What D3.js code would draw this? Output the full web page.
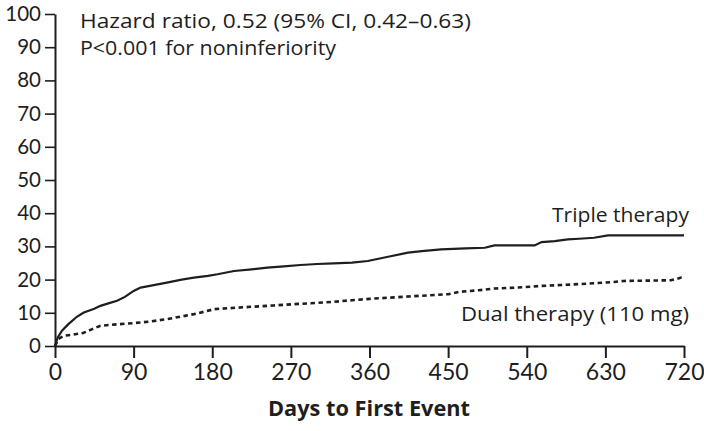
<!DOCTYPE html>
<html>
<head>
<meta charset="utf-8">
<script src="https://cdn.jsdelivr.net/npm/d3@7"></script>
<style>
  html, body { margin: 0; padding: 0; background: #fff; }
  svg { display: block; font-family: "Open Sans", Lato, sans-serif; }
</style>
</head>
<body>
<svg id="chart" width="704" height="431"></svg>
<script>
// Cumulative incidence (%) by days to first event
const tripleDays = [0, 3, 8, 15, 25, 33, 45, 52, 62, 71, 80, 90, 98, 110, 128, 145, 159, 175, 186, 205, 225, 243, 262, 281, 300, 319, 340, 358, 380, 404, 420, 442, 470, 492, 503, 525, 549, 557, 572, 587, 600, 617, 633, 660, 690, 720];
const tripleValues = [0, 2.5, 4.6, 6.5, 8.8, 10.1, 11.2, 12.1, 12.9, 13.6, 14.8, 16.6, 17.6, 18.2, 19.1, 20.0, 20.6, 21.1, 21.6, 22.6, 23.1, 23.6, 24.0, 24.4, 24.7, 24.9, 25.1, 25.6, 26.8, 28.1, 28.6, 29.1, 29.4, 29.6, 30.3, 30.3, 30.3, 31.3, 31.6, 32.1, 32.3, 32.6, 33.3, 33.3, 33.3, 33.3];

const dualDays = [0, 4, 10, 20, 32, 42, 52, 70, 90, 110, 128, 145, 159, 172, 182, 200, 224, 250, 274, 300, 319, 340, 360, 404, 450, 462, 485, 503, 530, 557, 590, 617, 640, 651, 680, 705, 717, 720];
const dualValues = [0, 2.1, 3.1, 3.4, 3.9, 5.0, 6.1, 6.5, 6.9, 7.4, 8.1, 8.9, 9.6, 10.4, 11.1, 11.4, 11.8, 12.2, 12.6, 13.0, 13.3, 13.8, 14.2, 14.9, 15.6, 16.3, 16.8, 17.3, 17.6, 18.1, 18.5, 18.9, 19.3, 19.6, 19.7, 19.8, 20.6, 20.6];

const xTicks = [0, 90, 180, 270, 360, 450, 540, 630, 720];
const yTicks = [0, 10, 20, 30, 40, 50, 60, 70, 80, 90, 100];

const annotationLines = ["Hazard ratio, 0.52 (95% CI, 0.42\u20130.63)", "P<0.001 for noninferiority"];
const seriesLabels = ["Triple therapy", "Dual therapy (110 mg)"];
const xTitle = "Days to First Event";

const ink = "#1e1e1e";
const svg = d3.select("#chart");

const x = d3.scaleLinear().domain([0, 720]).range([55, 684]);
const y = d3.scaleLinear().domain([0, 100]).range([346, 14]);

// Y axis: ticks pointing left
const yAxis = svg.append("g")
  .attr("transform", `translate(${x(0)},0)`)
  .call(d3.axisLeft(y).tickValues(yTicks).tickSize(10).tickPadding(4).tickSizeOuter(0));
yAxis.select(".domain").attr("stroke", ink).attr("stroke-width", 2);
yAxis.selectAll(".tick line").attr("stroke", ink).attr("stroke-width", 1.6);
yAxis.selectAll(".tick text").attr("fill", ink).attr("font-size", 20.5).attr("font-family", "Lato, sans-serif");

// X axis: ticks pointing down
const xAxis = svg.append("g")
  .attr("transform", `translate(0,${y(0)})`)
  .call(d3.axisBottom(x).tickValues(xTicks).tickSize(12).tickPadding(6).tickSizeOuter(0));
xAxis.select(".domain").attr("stroke", ink).attr("stroke-width", 2);
xAxis.selectAll(".tick line").attr("stroke", ink).attr("stroke-width", 2);
xAxis.selectAll(".tick text").attr("fill", ink).attr("font-size", 23).attr("font-family", "Lato, sans-serif");

// Curves
const line = d3.line().x(d => x(d[0])).y(d => y(d[1]));
const triple = d3.zip(tripleDays, tripleValues);
const dual = d3.zip(dualDays, dualValues);

svg.append("path")
  .attr("d", line(dual))
  .attr("fill", "none")
  .attr("stroke", ink)
  .attr("stroke-width", 2.6)
  .attr("stroke-dasharray", "4.5,3.5");

svg.append("path")
  .attr("d", line(triple))
  .attr("fill", "none")
  .attr("stroke", ink)
  .attr("stroke-width", 2.2);

// Annotation
const ann = svg.append("g").attr("fill", ink).attr("font-size", 20.5);
ann.append("text").attr("x", 80).attr("y", 28)
  .attr("textLength", 391).attr("lengthAdjust", "spacingAndGlyphs")
  .text(annotationLines[0]);
ann.append("text").attr("x", 80).attr("y", 55)
  .attr("textLength", 256).attr("lengthAdjust", "spacingAndGlyphs")
  .text(annotationLines[1]);

// Series labels
svg.append("text")
  .attr("x", 552).attr("y", 222)
  .attr("textLength", 137).attr("lengthAdjust", "spacingAndGlyphs")
  .attr("fill", ink).attr("font-size", 20.5)
  .text(seriesLabels[0]);
svg.append("text")
  .attr("x", 461).attr("y", 321)
  .attr("textLength", 228).attr("lengthAdjust", "spacingAndGlyphs")
  .attr("fill", ink).attr("font-size", 20.5)
  .text(seriesLabels[1]);

// X axis title
svg.append("text")
  .attr("x", 268).attr("y", 416)
  .attr("textLength", 202).attr("lengthAdjust", "spacingAndGlyphs")
  .attr("fill", ink).attr("font-size", 21).attr("font-weight", "bold")
  .text(xTitle);
</script>
</body>
</html>
